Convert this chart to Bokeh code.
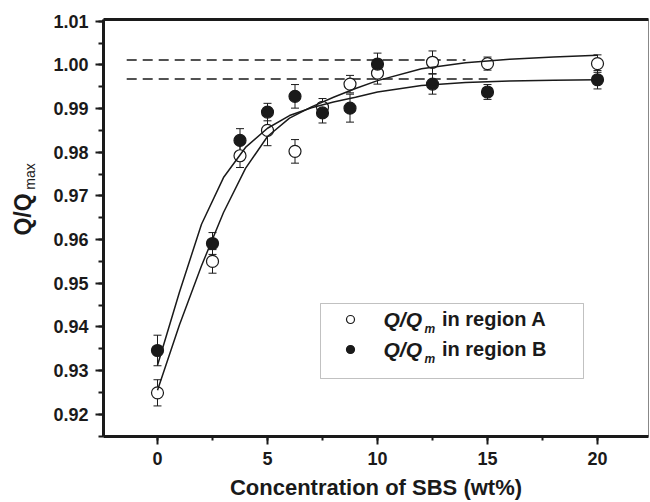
import numpy as np
from bokeh.plotting import figure
from bokeh.layouts import row
from bokeh.models import (ColumnDataSource, Whisker, TeeHead, SingleIntervalTicker,
                          NumeralTickFormatter, Range1d, LinearAxis, FixedTicker, Label,
                          Legend, LegendItem, BoxAnnotation)
from bokeh.embed import file_html
from bokeh.resources import INLINE

# ---------------- data ----------------
conc = [0, 2.5, 3.75, 5, 6.25, 7.5, 8.75, 10, 12.5, 15, 20]
q_region_a = [0.9249, 0.9550, 0.9792, 0.9850, 0.9802, 0.9903, 0.9956, 0.9981, 1.0006, 1.0003, 1.0003]
err_region_a = [0.0030, 0.0027, 0.0027, 0.0035, 0.0027, 0.0020, 0.0020, 0.0025, 0.0026, 0.0015, 0.0020]
q_region_b = [0.9346, 0.9591, 0.9827, 0.9892, 0.9928, 0.9890, 0.9901, 1.0002, 0.9956, 0.9938, 0.9966]
err_region_b = [0.0035, 0.0025, 0.0027, 0.0020, 0.0027, 0.0023, 0.0032, 0.0025, 0.0023, 0.0017, 0.0021]

fit_x = [0, 1, 2, 3, 4, 5, 6, 7, 8, 9, 10, 12, 14, 16, 18, 20]
fit_a = [0.9255, 0.9405, 0.9540, 0.9662, 0.9763, 0.9836, 0.9878, 0.9904, 0.9926, 0.9946,
         0.9964, 0.9991, 1.0005, 1.0013, 1.0018, 1.0022]
fit_b = [0.9312, 0.9480, 0.9635, 0.9742, 0.9811, 0.9855, 0.9884, 0.9902, 0.9915, 0.9926,
         0.9938, 0.9953, 0.9960, 0.9963, 0.9965, 0.9966]

plateau_a_x = [-1.4, 14.0]
plateau_a_y = [1.0011, 1.0011]
plateau_b_x = [-1.4, 15.0]
plateau_b_y = [0.9968, 0.9968]

x_ticks_interval = 5
y_ticks_interval = 0.01

FONT = "Liberation Sans"
INK = "#1a1a1a"
H = 502
LEFT_W = 46
TOP_B = 19
BOT_B = 62

# ---------------- y-axis title panel (Q/Q_max) ----------------
ttl = figure(width=LEFT_W, height=H, x_range=Range1d(0, 1), y_range=Range1d(0, 1),
             output_backend="svg", toolbar_location=None,
             min_border_left=0, min_border_right=0,
             min_border_top=TOP_B, min_border_bottom=BOT_B,
             x_axis_location=None, y_axis_location=None)
ttl.grid.visible = False
ttl.outline_line_color = None
ttl.add_layout(Label(x=22, y=222, x_units="screen", y_units="screen", text="Q/Q",
                     angle=np.pi / 2, text_align="center", text_baseline="alphabetic",
                     text_font=FONT, text_font_style="bold", text_font_size="23px",
                     text_color=INK))
ttl.add_layout(Label(x=29, y=260, x_units="screen", y_units="screen", text="max",
                     angle=np.pi / 2, text_align="center", text_baseline="alphabetic",
                     text_font=FONT, text_font_style="normal", text_font_size="14px",
                     text_color=INK))

# ---------------- main figure ----------------
p = figure(width=650 - LEFT_W, height=H,
           x_range=Range1d(-2.4545, 22.318), y_range=Range1d(0.9149, 1.0104),
           output_backend="svg", toolbar_location=None,
           min_border_left=57, min_border_right=2, min_border_top=TOP_B, min_border_bottom=BOT_B)
p.xgrid.visible = False
p.ygrid.visible = False
p.outline_line_color = "#888888"
p.outline_line_width = 1

xa = p.xaxis[0]
ya = p.yaxis[0]
xa.ticker = SingleIntervalTicker(interval=x_ticks_interval, num_minor_ticks=2)
ya.ticker = SingleIntervalTicker(interval=y_ticks_interval, num_minor_ticks=2)
ya.formatter = NumeralTickFormatter(format="0.00")
for ax in (xa, ya):
    ax.axis_line_width = 3
    ax.axis_line_color = INK
    ax.major_tick_line_width = 2
    ax.major_tick_line_color = INK
    ax.minor_tick_line_width = 2
    ax.minor_tick_line_color = INK
    ax.major_tick_in = 0
    ax.major_tick_out = 8
    ax.minor_tick_in = 0
    ax.major_label_text_font = FONT
    ax.major_label_text_font_style = "bold"
    ax.major_label_text_font_size = "18px"
    ax.major_label_text_color = INK
xa.minor_tick_out = 4
ya.minor_tick_out = 5
xa.major_label_standoff = 7
ya.major_label_standoff = 7

xa.axis_label = "Concentration of SBS (wt%)"
xa.axis_label_text_font = FONT
xa.axis_label_text_font_style = "bold"
xa.axis_label_text_font_size = "22px"
xa.axis_label_text_color = INK
xa.axis_label_standoff = 7

top_axis = LinearAxis(ticker=FixedTicker(ticks=[]), axis_line_width=3, axis_line_color=INK,
                      major_tick_out=0, minor_tick_out=0, major_tick_in=0, minor_tick_in=0,
                      major_label_text_font_size="0px")
p.add_layout(top_axis, "above")

# ---------------- error bars ----------------
src_a = ColumnDataSource(dict(x=conc, y=q_region_a,
                              upper=[v + e for v, e in zip(q_region_a, err_region_a)],
                              lower=[v - e for v, e in zip(q_region_a, err_region_a)]))
src_b = ColumnDataSource(dict(x=conc, y=q_region_b,
                              upper=[v + e for v, e in zip(q_region_b, err_region_b)],
                              lower=[v - e for v, e in zip(q_region_b, err_region_b)]))
for src in (src_a, src_b):
    p.add_layout(Whisker(source=src, base="x", upper="upper", lower="lower",
                         line_color=INK, line_width=1,
                         upper_head=TeeHead(size=8, line_color=INK, line_width=1),
                         lower_head=TeeHead(size=8, line_color=INK, line_width=1)))

# ---------------- plateau (dashed) lines ----------------
p.line(plateau_a_x, plateau_a_y, line_color=INK, line_width=1.5, line_dash="10 6")
p.line(plateau_b_x, plateau_b_y, line_color=INK, line_width=1.5, line_dash="10 6")

# ---------------- markers ----------------
ra = p.scatter("x", "y", source=src_a, marker="circle", size=12,
               fill_color="white", line_color=INK, line_width=1.2)
rb = p.scatter("x", "y", source=src_b, marker="circle", size=12,
               fill_color=INK, line_color=INK, line_width=1.2)

# ---------------- fitted curves ----------------
p.line(fit_x, fit_a, line_color=INK, line_width=1.5)
p.line(fit_x, fit_b, line_color=INK, line_width=1.5)

# ---------------- legend ----------------
p.add_layout(BoxAnnotation(left=217, right=480, bottom=58, top=133,
                           left_units="screen", right_units="screen",
                           bottom_units="screen", top_units="screen",
                           fill_alpha=0, line_color="#333333", line_width=1))
legend = Legend(items=[LegendItem(label="in region A", renderers=[ra]),
                       LegendItem(label="in region B", renderers=[rb])],
                location=(237, 75), padding=0, margin=0, spacing=6,
                glyph_width=20, glyph_height=24, label_height=24, label_standoff=82,
                label_text_font=FONT, label_text_font_style="bold",
                label_text_font_size="20px", label_text_color=INK,
                background_fill_alpha=0, border_line_alpha=0)
p.add_layout(legend)
for yy in (117, 87):
    p.add_layout(Label(x=280, y=yy, x_units="screen", y_units="screen", text="Q/Q",
                       text_align="left", text_baseline="middle",
                       text_font=FONT, text_font_style="bold italic",
                       text_font_size="21px", text_color=INK))
    p.add_layout(Label(x=321, y=yy - 9, x_units="screen", y_units="screen", text="m",
                       text_align="left", text_baseline="middle",
                       text_font=FONT, text_font_style="bold italic",
                       text_font_size="12px", text_color=INK))

layout = row(ttl, p, spacing=0)
open("out.html", "w").write(file_html(layout, INLINE))
